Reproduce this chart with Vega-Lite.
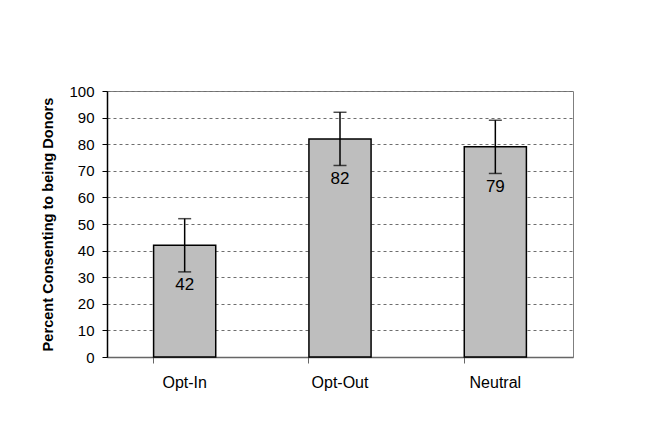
{
  "$schema": "https://vega.github.io/schema/vega-lite/v6.json",
  "autosize": {"type": "none"},
  "padding": {"left": 107, "top": 91, "right": 78, "bottom": 75},
  "width": 466,
  "height": 266,
  "background": "white",
  "config": {
    "view": {"stroke": "#7f7f7f", "strokeWidth": 1},
    "font": "Liberation Sans",
    "axisY": {
      "tickCount": 10,
      "labelFont": "Liberation Sans",
      "labelFontSize": 15,
      "labelColor": "#000000",
      "labelPadding": 8,
      "tickSize": 5,
      "tickColor": "#000000",
      "domainColor": "#000000",
      "domainWidth": 1.5,
      "grid": true,
      "gridColor": "#6e6e6e",
      "gridDash": [3, 3],
      "gridWidth": 1,
      "titleFont": "Liberation Sans",
      "titleFontSize": 14.6,
      "titleFontWeight": "bold",
      "titleColor": "#000000",
      "titlePadding": 13
    }
  },
  "data": {
    "values": [
      {"group": "Opt-In", "percent": 42, "lo": 32, "hi": 52},
      {"group": "Opt-Out", "percent": 82, "lo": 72, "hi": 92},
      {"group": "Neutral", "percent": 79, "lo": 69, "hi": 89}
    ]
  },
  "layer": [
    {
      "mark": {"type": "bar", "fill": "#bebebe", "stroke": "#000000", "strokeWidth": 1.5},
      "encoding": {
        "x": {
          "field": "group",
          "type": "nominal",
          "sort": null,
          "scale": {"paddingInner": 0.6, "paddingOuter": 0.3},
          "axis": {
            "title": null,
            "orient": "bottom",
            "labelAngle": 0,
            "labelFont": "Liberation Sans",
            "labelFontSize": 16,
            "labelColor": "#000000",
            "labelPadding": 17,
            "ticks": false,
            "domain": true,
            "domainColor": "#666666",
            "domainWidth": 1.5
          }
        },
        "y": {
          "field": "percent",
          "type": "quantitative",
          "title": "Percent Consenting to being Donors",
          "scale": {"domain": [0, 100], "nice": false}
        }
      }
    },
    {
      "mark": {"type": "rule", "color": "#000000", "strokeWidth": 1.5},
      "encoding": {
        "x": {
          "field": "group",
          "type": "nominal",
          "sort": null,
          "axis": {
            "title": null,
            "orient": "bottom",
            "labels": false,
            "domain": false,
            "grid": false,
            "ticks": true,
            "tickSize": 6,
            "tickColor": "#666666",
            "tickWidth": 1,
            "bandPosition": 0
          }
        },
        "y": {"field": "lo", "type": "quantitative", "title": "Percent Consenting to being Donors"},
        "y2": {"field": "hi"}
      }
    },
    {
      "mark": {"type": "tick", "color": "#000000", "size": 13, "thickness": 1.5, "orient": "horizontal"},
      "encoding": {
        "x": {"field": "group", "type": "nominal", "sort": null, "axis": null},
        "y": {"field": "hi", "type": "quantitative", "title": "Percent Consenting to being Donors"}
      }
    },
    {
      "mark": {"type": "tick", "color": "#000000", "size": 13, "thickness": 1.5, "orient": "horizontal"},
      "encoding": {
        "x": {"field": "group", "type": "nominal", "sort": null, "axis": null},
        "y": {"field": "lo", "type": "quantitative", "title": "Percent Consenting to being Donors"}
      }
    },
    {
      "mark": {"type": "text", "baseline": "middle", "align": "center", "dy": 40, "fontSize": 17, "font": "Liberation Sans", "color": "#000000"},
      "encoding": {
        "x": {"field": "group", "type": "nominal", "sort": null, "axis": null},
        "y": {"field": "percent", "type": "quantitative", "title": "Percent Consenting to being Donors"},
        "text": {"field": "percent", "type": "quantitative"}
      }
    }
  ],
  "resolve": {"axis": {"x": "independent"}}
}
